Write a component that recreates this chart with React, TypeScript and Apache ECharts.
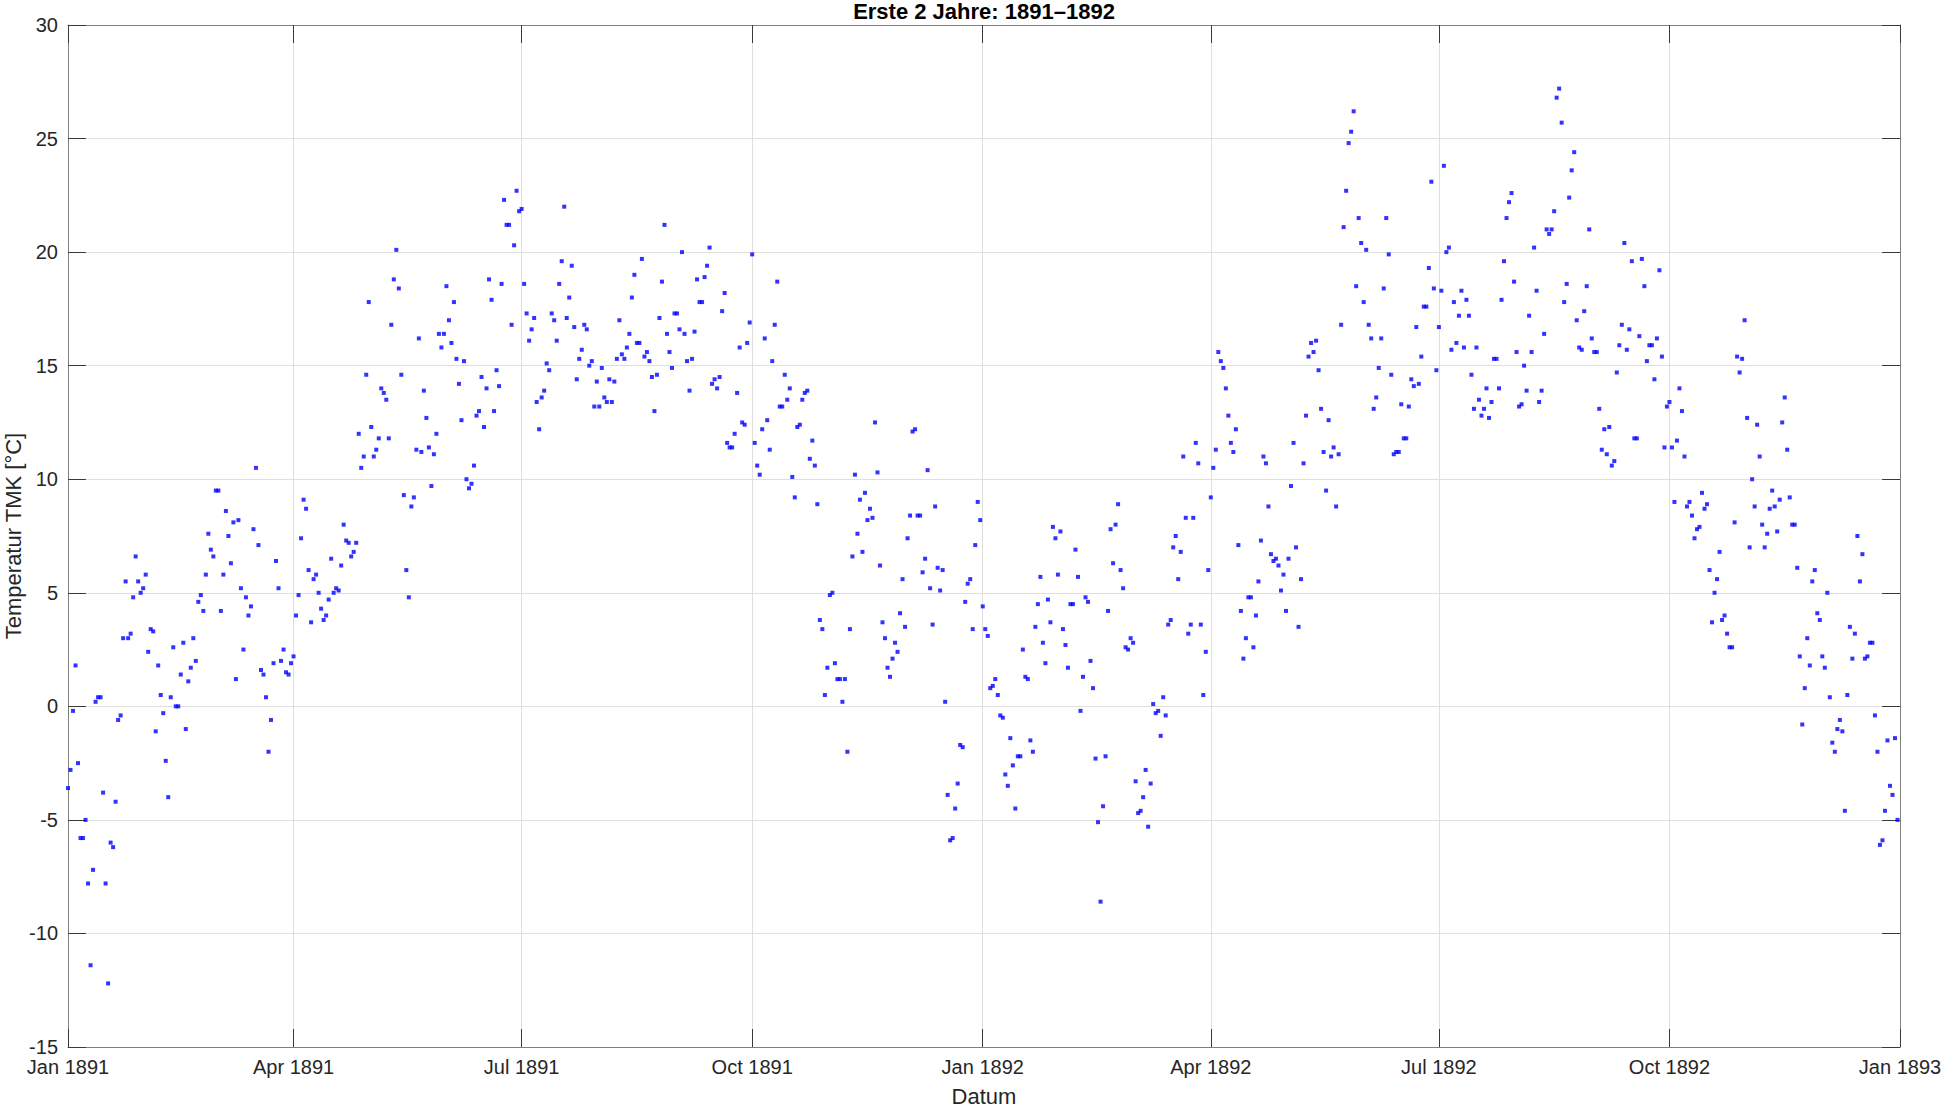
import React, { useEffect, useRef } from "react";
import * as echarts from "echarts";

const FONT = "'Liberation Sans', Arial, Helvetica, sans-serif";
const TITLE = "Erste 2 Jahre: 1891\u20131892";
const X_NAME = "Datum";
const Y_NAME = "Temperatur TMK [°C]";
const MONTH_NAMES = ["Jan", "Feb", "Mar", "Apr", "May", "Jun", "Jul", "Aug", "Sep", "Oct", "Nov", "Dec"];
const FIRST_YEAR = 1891;
const Y_MIN = -15;
const Y_MAX = 30;
const Y_STEP = 5;

// Daily mean temperature (TMK, °C), one value per day
const jan1891 = [-3.6, -2.8, -0.2, 1.8, -2.5, -5.8, -5.8, -5.0, -7.8, -11.4, -7.2, 0.2, 0.4, 0.4, -3.8, -7.8, -12.2, -6.0, -6.2, -4.2, -0.6, -0.4, 3.0, 5.5, 3.0, 3.2, 4.8, 6.6, 5.5, 5.0, 5.2];
const feb1891 = [5.8, 2.4, 3.4, 3.3, -1.1, 1.8, 0.5, -0.3, -2.4, -4.0, 0.4, 2.6, 0.0, 0.0, 1.4, 2.8, -1.0, 1.1, 1.7, 3.0, 2.0, 4.6, 4.9, 4.2, 5.8, 7.6, 6.9, 6.6];
const mar1891 = [9.5, 9.5, 4.2, 5.8, 8.6, 7.5, 6.3, 8.1, 1.2, 8.2, 5.2, 2.5, 4.8, 4.0, 4.4, 7.8, 10.5, 7.1, 1.6, 1.4, 0.4, -2.0, -0.6, 1.9, 6.4, 5.2, 2.0, 2.5, 1.5, 1.4, 1.9];
const apr1891 = [2.2, 4.0, 4.9, 7.4, 9.1, 8.7, 6.0, 3.7, 5.6, 5.8, 5.0, 4.3, 3.8, 4.0, 4.7, 6.5, 5.0, 5.2, 5.1, 6.2, 8.0, 7.3, 7.2, 6.6, 6.8, 7.2, 12.0, 10.5, 11.0, 14.6];
const may1891 = [17.8, 12.3, 11.0, 11.3, 11.8, 14.0, 13.8, 13.5, 11.8, 16.8, 18.8, 20.1, 18.4, 14.6, 9.3, 6.0, 4.8, 8.8, 9.2, 11.3, 16.2, 11.2, 13.9, 12.7, 11.4, 9.7, 11.1, 12.0, 16.4, 15.8, 16.4];
const jun1891 = [18.5, 17.0, 16.0, 17.8, 15.3, 14.2, 12.6, 15.2, 10.0, 9.6, 9.8, 10.6, 12.8, 13.0, 14.5, 12.3, 14.0, 18.8, 17.9, 13.0, 14.8, 14.1, 18.6, 22.3, 21.2, 21.2, 16.8, 20.3, 22.7, 21.8];
const jul1891 = [21.9, 18.6, 17.3, 16.1, 16.6, 17.1, 13.4, 12.2, 13.6, 13.9, 15.1, 14.8, 17.3, 17.0, 16.1, 18.6, 19.6, 22.0, 17.1, 18.0, 19.4, 16.7, 14.4, 15.3, 15.7, 16.8, 16.6, 15.0, 15.2, 13.2, 14.3];
const aug1891 = [13.2, 14.9, 13.6, 13.4, 14.4, 13.4, 14.3, 15.3, 17.0, 15.5, 15.3, 15.8, 16.4, 18.0, 19.0, 16.0, 16.0, 19.7, 15.4, 15.6, 15.2, 14.5, 13.0, 14.6, 17.1, 18.7, 21.2, 16.4, 15.6, 14.9, 17.3];
const sep1891 = [17.3, 16.6, 20.0, 16.4, 15.2, 13.9, 15.3, 16.5, 18.8, 17.8, 17.8, 18.9, 19.4, 20.2, 14.2, 14.4, 14.0, 14.5, 17.4, 18.2, 11.6, 11.4, 11.4, 12.0, 13.8, 15.8, 12.5, 12.4, 16.0, 16.9];
const oct1891 = [19.9, 11.6, 10.6, 10.2, 12.2, 16.2, 12.6, 11.3, 15.2, 16.8, 18.7, 13.2, 13.2, 14.6, 13.5, 14.0, 10.1, 9.2, 12.3, 12.4, 13.5, 13.8, 13.9, 10.9, 11.7, 10.6, 8.9, 3.8, 3.4, 0.5, 1.7];
const nov1891 = [4.9, 5.0, 1.9, 1.2, 1.2, 0.2, 1.2, -2.0, 3.4, 6.6, 10.2, 7.6, 9.1, 6.8, 9.4, 8.2, 8.7, 8.3, 12.5, 10.3, 6.2, 3.7, 3.0, 1.7, 1.3, 2.1, 2.8, 2.4, 4.1, 5.6];
const dec1891 = [3.5, 7.4, 8.4, 12.1, 12.2, 8.4, 8.4, 5.9, 6.5, 10.4, 5.2, 3.6, 8.8, 6.1, 5.1, 6.0, 0.2, -3.9, -5.9, -5.8, -4.5, -3.4, -1.7, -1.8, 4.6, 5.4, 5.6, 3.4, 7.1, 9.0, 8.2];
const jan1892 = [4.4, 3.4, 3.1, 0.8, 0.9, 1.2, 0.5, -0.4, -0.5, -3.0, -3.5, -1.4, -2.6, -4.5, -2.2, -2.2, 2.5, 1.3, 1.2, -1.5, -2.0, 3.5, 4.5, 5.7, 2.8, 1.9, 4.7, 3.7, 7.9, 7.4, 5.8];
const feb1892 = [7.7, 3.4, 2.7, 1.7, 4.5, 4.5, 6.9, 5.7, -0.2, 1.3, 4.8, 4.6, 2.0, 0.8, -2.3, -5.1, -8.6, -4.4, -2.2, 4.2, 7.8, 6.3, 8.0, 8.9, 6.0, 5.2, 2.6, 2.5, 3.0];
const mar1892 = [2.8, -3.3, -4.7, -4.6, -4.0, -2.8, -5.3, -3.4, 0.1, -0.3, -0.2, -1.3, 0.4, -0.4, 3.6, 3.8, 7.0, 7.5, 5.6, 6.8, 11.0, 8.3, 3.2, 3.6, 8.3, 11.6, 10.7, 3.6, 0.5, 2.4, 6.0];
const apr1892 = [9.2, 10.5, 11.3, 15.6, 15.2, 14.9, 14.0, 12.8, 11.6, 11.2, 12.2, 7.1, 4.2, 2.1, 3.0, 4.8, 4.8, 2.6, 4.0, 5.5, 7.3, 11.0, 10.7, 8.8, 6.7, 6.4, 6.5, 6.2, 5.1, 5.8];
const may1892 = [4.2, 6.5, 9.7, 11.6, 7.0, 3.5, 5.6, 10.7, 12.8, 15.4, 16.0, 15.6, 16.1, 14.8, 13.1, 11.2, 9.5, 12.6, 11.0, 11.4, 8.8, 11.1, 16.8, 21.1, 22.7, 24.8, 25.3, 26.2, 18.5, 21.5, 20.4];
const jun1892 = [17.8, 20.1, 16.8, 16.2, 13.1, 13.6, 14.9, 16.2, 18.4, 21.5, 19.9, 14.6, 11.1, 11.2, 11.2, 13.3, 11.8, 11.8, 13.2, 14.4, 14.1, 16.7, 14.2, 15.4, 17.6, 17.6, 19.3, 23.1, 18.4, 14.8];
const jul1892 = [16.7, 18.3, 23.8, 20.0, 20.2, 15.7, 17.8, 16.0, 17.2, 18.3, 15.8, 17.9, 17.2, 14.6, 13.1, 15.8, 13.5, 12.8, 13.1, 14.0, 12.7, 13.4, 15.3, 15.3, 14.0, 17.9, 19.6, 21.5, 22.2, 22.6, 18.7];
const aug1892 = [15.6, 13.2, 13.3, 15.0, 13.9, 17.2, 15.6, 20.2, 18.3, 13.4, 13.9, 16.4, 21.0, 20.8, 21.0, 21.8, 26.8, 27.2, 25.7, 17.8, 18.6, 22.4, 23.6, 24.4, 17.0, 15.8, 15.7, 17.4, 18.5, 21.0, 16.2];
const sep1892 = [15.6, 15.6, 13.1, 11.3, 12.2, 11.1, 12.3, 10.6, 10.8, 14.7, 15.9, 16.8, 20.4, 15.7, 16.6, 19.6, 11.8, 11.8, 16.3, 19.7, 18.5, 15.2, 15.9, 15.9, 14.4, 16.2, 19.2, 15.4, 11.4, 13.2];
const oct1892 = [13.4, 11.4, 9.0, 11.7, 14.0, 13.0, 11.0, 8.8, 9.0, 8.4, 7.4, 7.8, 7.9, 9.4, 8.7, 8.9, 6.0, 3.7, 5.0, 5.6, 6.8, 3.8, 4.0, 3.2, 2.6, 2.6, 8.1, 15.4, 14.7, 15.3, 17.0];
const nov1892 = [12.7, 7.0, 10.0, 8.8, 12.4, 11.0, 8.0, 7.0, 7.6, 8.7, 9.5, 8.8, 7.7, 9.1, 12.5, 13.6, 11.3, 9.2, 8.0, 8.0, 6.1, 2.2, -0.8, 0.8, 3.0, 1.8, 5.5, 6.0, 4.1, 3.8];
const dec1892 = [2.2, 1.7, 5.0, 0.4, -1.6, -2.0, -1.0, -0.6, -1.1, -4.6, 0.5, 3.5, 2.1, 3.2, 7.5, 5.5, 6.7, 2.1, 2.2, 2.8, 2.8, -0.4, -2.0, -6.1, -5.9, -4.6, -1.5, -3.5, -3.9, -1.4, -5.0];

const months1891 = [jan1891, feb1891, mar1891, apr1891, may1891, jun1891, jul1891, aug1891, sep1891, oct1891, nov1891, dec1891];
const months1892 = [jan1892, feb1892, mar1892, apr1892, may1892, jun1892, jul1892, aug1892, sep1892, oct1892, nov1892, dec1892];
const years = [months1891, months1892];

function buildData(): [number, number][] {
  const out: [number, number][] = [];
  years.forEach((months, yi) => {
    months.forEach((vals, mi) => {
      vals.forEach((v, di) => {
        out.push([new Date(FIRST_YEAR + yi, mi, di + 1).getTime(), v]);
      });
    });
  });
  return out;
}

const T_MIN = new Date(FIRST_YEAR, 0, 1).getTime();
const T_MAX = new Date(FIRST_YEAR + years.length, 0, 1).getTime();

function fmtDate(value: number): string {
  const d = new Date(value);
  return MONTH_NAMES[d.getMonth()] + " " + d.getFullYear();
}

const AXIS_COLOR = "#808080";
const TICK_COLOR = "#3a3a3a";
const GRID_COLOR = "#dfdfdf";
const TEXT_COLOR = "#262626";

export default function App() {
  const ref = useRef<HTMLDivElement>(null);
  useEffect(() => {
    if (!ref.current) return;
    const chart = echarts.init(ref.current, null, { renderer: "svg" });
    const data = buildData();
    const baseX = {
      type: "time",
      min: T_MIN,
      max: T_MAX,
      splitNumber: 8,
      axisLine: { show: true, onZero: false, lineStyle: { color: AXIS_COLOR, width: 1 } },
      axisTick: { show: true, inside: true, length: 18, lineStyle: { color: TICK_COLOR, width: 1 } },
    };
    const baseY = {
      type: "value",
      min: Y_MIN,
      max: Y_MAX,
      interval: Y_STEP,
      axisLine: { show: true, onZero: false, lineStyle: { color: AXIS_COLOR, width: 1 } },
      axisTick: { show: true, inside: true, length: 18, lineStyle: { color: TICK_COLOR, width: 1 } },
    };
    chart.setOption({
      animation: false,
      backgroundColor: "#ffffff",
      textStyle: { fontFamily: FONT },
      title: {
        text: TITLE,
        left: 984,
        top: 0,
        padding: 0,
        textAlign: "center",
        textStyle: { fontFamily: FONT, fontSize: 22, fontWeight: "bold", color: "#000000" },
      },
      grid: { left: 68, right: 46, top: 25, bottom: 60, containLabel: false, outerBoundsMode: "none" },
      xAxis: [
        {
          ...baseX,
          position: "bottom",
          name: X_NAME,
          nameLocation: "middle",
          nameGap: 38,
          nameMoveOverlap: false,
          nameTextStyle: { fontFamily: FONT, fontSize: 22, color: TEXT_COLOR },
          axisLabel: {
            show: true,
            fontFamily: FONT,
            fontSize: 20,
            color: TEXT_COLOR,
            margin: 10,
            showMinLabel: true,
            showMaxLabel: true,
            formatter: (v: number) => fmtDate(v),
          },
          splitLine: { show: true, lineStyle: { color: GRID_COLOR, width: 1 } },
        },
        {
          ...baseX,
          position: "top",
          axisLabel: { show: false },
          splitLine: { show: false },
        },
      ],
      yAxis: [
        {
          ...baseY,
          position: "left",
          name: Y_NAME,
          nameLocation: "middle",
          nameRotate: 90,
          nameGap: 44,
          nameMoveOverlap: false,
          nameTextStyle: { fontFamily: FONT, fontSize: 22, color: TEXT_COLOR },
          axisLabel: { show: true, fontFamily: FONT, fontSize: 20, color: TEXT_COLOR, margin: 10 },
          splitLine: { show: true, lineStyle: { color: GRID_COLOR, width: 1 } },
        },
        {
          ...baseY,
          position: "right",
          axisLabel: { show: false },
          splitLine: { show: false },
        },
      ],
      series: [
        {
          type: "scatter",
          xAxisIndex: 0,
          yAxisIndex: 0,
          data,
          symbol: "rect",
          symbolSize: 4,
          itemStyle: { color: "#0000ff" },
        },
      ],
    });
    return () => chart.dispose();
  }, []);
  return (
    <div
      ref={ref}
      style={{ position: "absolute", left: 0, top: 0, width: 1946, height: 1107, background: "#ffffff" }}
    />
  );
}
